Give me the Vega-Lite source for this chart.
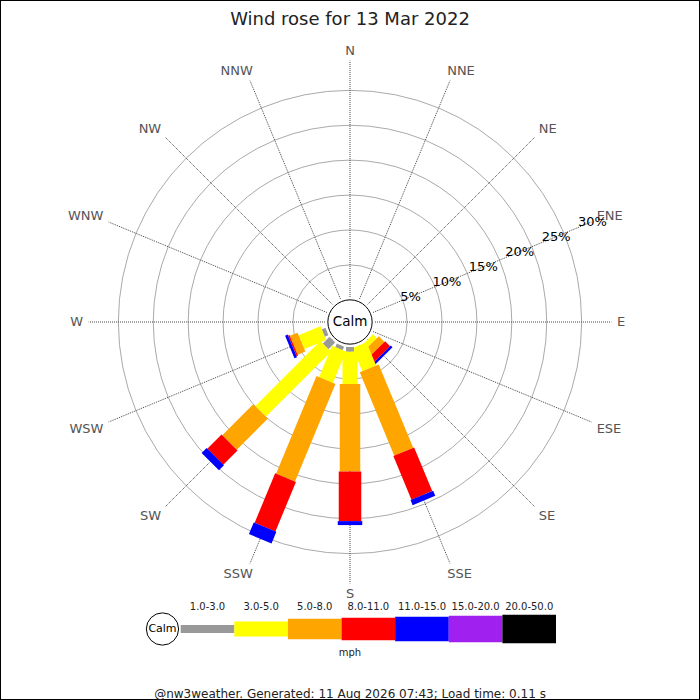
{
  "$schema": "https://vega.github.io/schema/vega-lite/v6.json",
  "width": 700,
  "height": 700,
  "autosize": "none",
  "padding": 0,
  "background": "white",
  "config": {"view": {"stroke": "black", "strokeWidth": 2}, "font": "DejaVu Sans"},
  "title": {"text": "Wind rose for 13 Mar 2022", "font": "DejaVu Sans", "fontSize": 18, "fontWeight": "normal", "color": "#222222", "anchor": "middle", "frame": "group", "orient": "top", "offset": -43, "baseline": "alphabetic"},
  "datasets": {
    "rose": [
      {"dir": "SE", "angle": 135, "speed": "3.0-5.0", "lo": 3, "pct": 0.7},
      {"dir": "SE", "angle": 135, "speed": "5.0-8.0", "lo": 5, "pct": 1.0},
      {"dir": "SE", "angle": 135, "speed": "8.0-11.0", "lo": 8, "pct": 0.9},
      {"dir": "SE", "angle": 135, "speed": "11.0-15.0", "lo": 11, "pct": 0.3},
      {"dir": "SSE", "angle": 157.5, "speed": "3.0-5.0", "lo": 3, "pct": 3.2},
      {"dir": "SSE", "angle": 157.5, "speed": "5.0-8.0", "lo": 5, "pct": 11.45},
      {"dir": "SSE", "angle": 157.5, "speed": "8.0-11.0", "lo": 8, "pct": 6.0},
      {"dir": "SSE", "angle": 157.5, "speed": "11.0-15.0", "lo": 11, "pct": 0.7},
      {"dir": "S", "angle": 180, "speed": "1.0-3.0", "lo": 1, "pct": 0.6},
      {"dir": "S", "angle": 180, "speed": "3.0-5.0", "lo": 3, "pct": 4.1},
      {"dir": "S", "angle": 180, "speed": "5.0-8.0", "lo": 5, "pct": 11.1},
      {"dir": "S", "angle": 180, "speed": "8.0-11.0", "lo": 8, "pct": 6.3},
      {"dir": "S", "angle": 180, "speed": "11.0-15.0", "lo": 11, "pct": 0.5},
      {"dir": "SSW", "angle": 202.5, "speed": "1.0-3.0", "lo": 1, "pct": 0.5},
      {"dir": "SSW", "angle": 202.5, "speed": "3.0-5.0", "lo": 3, "pct": 4.3},
      {"dir": "SSW", "angle": 202.5, "speed": "5.0-8.0", "lo": 5, "pct": 13.4},
      {"dir": "SSW", "angle": 202.5, "speed": "8.0-11.0", "lo": 8, "pct": 6.8},
      {"dir": "SSW", "angle": 202.5, "speed": "11.0-15.0", "lo": 11, "pct": 1.6},
      {"dir": "SW", "angle": 225, "speed": "1.0-3.0", "lo": 1, "pct": 1.2},
      {"dir": "SW", "angle": 225, "speed": "3.0-5.0", "lo": 3, "pct": 11.7},
      {"dir": "SW", "angle": 225, "speed": "5.0-8.0", "lo": 5, "pct": 5.55},
      {"dir": "SW", "angle": 225, "speed": "8.0-11.0", "lo": 8, "pct": 2.55},
      {"dir": "SW", "angle": 225, "speed": "11.0-15.0", "lo": 11, "pct": 0.9},
      {"dir": "WSW", "angle": 247.5, "speed": "1.0-3.0", "lo": 1, "pct": 0.5},
      {"dir": "WSW", "angle": 247.5, "speed": "3.0-5.0", "lo": 3, "pct": 3.0},
      {"dir": "WSW", "angle": 247.5, "speed": "5.0-8.0", "lo": 5, "pct": 1.05},
      {"dir": "WSW", "angle": 247.5, "speed": "8.0-11.0", "lo": 8, "pct": 0.2},
      {"dir": "WSW", "angle": 247.5, "speed": "11.0-15.0", "lo": 11, "pct": 0.35}
    ],
    "dirs": [
      {"dir": "N", "angle": 0}, {"dir": "NNE", "angle": 22.5}, {"dir": "NE", "angle": 45}, {"dir": "ENE", "angle": 67.5},
      {"dir": "E", "angle": 90}, {"dir": "ESE", "angle": 112.5}, {"dir": "SE", "angle": 135}, {"dir": "SSE", "angle": 157.5},
      {"dir": "S", "angle": 180}, {"dir": "SSW", "angle": 202.5}, {"dir": "SW", "angle": 225}, {"dir": "WSW", "angle": 247.5},
      {"dir": "W", "angle": 270}, {"dir": "WNW", "angle": 292.5}, {"dir": "NW", "angle": 315}, {"dir": "NNW", "angle": 337.5}
    ],
    "rings": [
      {"pct": 5, "label": "5%"}, {"pct": 10, "label": "10%"}, {"pct": 15, "label": "15%"},
      {"pct": 20, "label": "20%"}, {"pct": 25, "label": "25%"}, {"pct": 30, "label": "30%"}
    ],
    "speeds": [
      {"speed": "1.0-3.0", "lo": 1}, {"speed": "3.0-5.0", "lo": 3}, {"speed": "5.0-8.0", "lo": 5},
      {"speed": "8.0-11.0", "lo": 8}, {"speed": "11.0-15.0", "lo": 11}, {"speed": "15.0-20.0", "lo": 15},
      {"speed": "20.0-50.0", "lo": 20}
    ]
  },
  "layer": [
    {
      "layer": [
        {
          "data": {"name": "rings"},
          "transform": [{"calculate": "3.1726 + datum.pct", "as": "R"}],
          "mark": {"type": "point", "shape": "circle", "filled": false, "stroke": "#aaaaaa", "strokeWidth": 1, "opacity": 1},
          "encoding": {
            "x": {"datum": 0, "type": "quantitative", "scale": {"domain": [-44.416, 44.416], "nice": false, "zero": false}, "axis": null},
            "y": {"datum": 0, "type": "quantitative", "scale": {"domain": [-47.97, 40.863], "nice": false, "zero": false}, "axis": null},
            "size": {"field": "R", "type": "quantitative", "scale": {"type": "pow", "exponent": 2, "domain": [0, 33.1726], "range": [0, 214664], "zero": true}, "legend": null}
          }
        },
        {
          "data": {"name": "dirs"},
          "transform": [
            {"calculate": "PI*datum.angle/180", "as": "a"},
            {"calculate": "3.1726*sin(datum.a)", "as": "sx"},
            {"calculate": "3.1726*cos(datum.a)", "as": "sy"},
            {"calculate": "33.1726*sin(datum.a)", "as": "ex"},
            {"calculate": "33.1726*cos(datum.a)", "as": "ey"}
          ],
          "mark": {"type": "rule", "stroke": "#444444", "strokeWidth": 1, "strokeDash": [1, 1]},
          "encoding": {
            "x": {"field": "sx", "type": "quantitative", "scale": {"domain": [-44.416, 44.416], "nice": false, "zero": false}, "axis": null},
            "y": {"field": "sy", "type": "quantitative", "scale": {"domain": [-47.97, 40.863], "nice": false, "zero": false}, "axis": null},
            "x2": {"field": "ex"},
            "y2": {"field": "ey"}
          }
        },
        {
          "data": {"name": "rose"},
          "transform": [
            {"stack": "pct", "groupby": ["dir"], "sort": [{"field": "lo", "order": "ascending"}], "as": ["c0", "c1"]},
            {"calculate": "PI*datum.angle/180", "as": "a"},
            {"calculate": "(3.1726+datum.c0)*sin(datum.a)", "as": "x0"},
            {"calculate": "(3.1726+datum.c0)*cos(datum.a)", "as": "y0"},
            {"calculate": "(3.1726+datum.c1)*sin(datum.a)", "as": "x1"},
            {"calculate": "(3.1726+datum.c1)*cos(datum.a)", "as": "y1"}
          ],
          "mark": {"type": "rule", "strokeCap": "butt"},
          "encoding": {
            "x": {"field": "x0", "type": "quantitative", "scale": {"domain": [-44.416, 44.416], "nice": false, "zero": false}, "axis": null},
            "y": {"field": "y0", "type": "quantitative", "scale": {"domain": [-47.97, 40.863], "nice": false, "zero": false}, "axis": null},
            "x2": {"field": "x1"},
            "y2": {"field": "y1"},
            "color": {"field": "speed", "type": "ordinal", "scale": {"type": "ordinal", "domain": ["1.0-3.0", "3.0-5.0", "5.0-8.0", "8.0-11.0", "11.0-15.0", "15.0-20.0", "20.0-50.0"], "range": ["#999999", "#ffff00", "#ffa500", "#ff0000", "#0000ff", "#a020f0", "#000000"]}, "legend": null},
            "strokeWidth": {"field": "speed", "type": "ordinal", "scale": {"type": "ordinal", "domain": ["1.0-3.0", "3.0-5.0", "5.0-8.0", "8.0-11.0", "11.0-15.0", "15.0-20.0", "20.0-50.0"], "range": [8, 15, 20.5, 22.5, 24.5, 26.5, 28.5]}, "legend": null}
          }
        },
        {
          "data": {"values": [{"label": "Calm"}]},
          "mark": {"type": "point", "shape": "circle", "filled": true, "fill": "white", "stroke": "black", "strokeWidth": 1, "opacity": 1},
          "encoding": {
            "x": {"datum": 0, "type": "quantitative", "scale": {"domain": [-44.416, 44.416], "nice": false, "zero": false}, "axis": null},
            "y": {"datum": 0, "type": "quantitative", "scale": {"domain": [-47.97, 40.863], "nice": false, "zero": false}, "axis": null},
            "size": {"datum": 3.1726, "type": "quantitative", "scale": {"type": "pow", "exponent": 2, "domain": [0, 33.1726], "range": [0, 214664], "zero": true}, "legend": null}
          }
        },
        {
          "data": {"values": [{"label": "Calm"}]},
          "mark": {"type": "text", "font": "DejaVu Sans", "fontSize": 13.5, "color": "black", "align": "center", "baseline": "middle"},
          "encoding": {
            "x": {"datum": 0, "type": "quantitative", "scale": {"domain": [-44.416, 44.416], "nice": false, "zero": false}, "axis": null},
            "y": {"datum": 0, "type": "quantitative", "scale": {"domain": [-47.97, 40.863], "nice": false, "zero": false}, "axis": null},
            "text": {"field": "label"}
          }
        },
        {
          "data": {"name": "dirs"},
          "transform": [
            {"calculate": "PI*datum.angle/180", "as": "a"},
            {"calculate": "33.88*sin(datum.a)", "as": "lx"},
            {"calculate": "33.88*cos(datum.a)", "as": "ly"}
          ],
          "mark": {
            "type": "text", "font": "DejaVu Sans", "fontSize": 13, "color": "#555555",
            "align": {"expr": "(datum.angle == 0 || datum.angle == 180) ? 'center' : (datum.angle < 180 ? 'left' : 'right')"},
            "baseline": {"expr": "(datum.angle == 90 || datum.angle == 270) ? 'middle' : ((datum.angle < 90 || datum.angle > 270) ? 'bottom' : 'top')"},
            "dx": {"expr": "(datum.angle == 22.5 || datum.angle == 157.5) ? -5 : ((datum.angle == 202.5 || datum.angle == 337.5) ? 5 : 0)"},
            "dy": {"expr": "(datum.angle == 90 || datum.angle == 270) ? 0 : ((datum.angle < 90 || datum.angle > 270) ? 3 : -1)"}
          },
          "encoding": {
            "x": {"field": "lx", "type": "quantitative", "scale": {"domain": [-44.416, 44.416], "nice": false, "zero": false}, "axis": null},
            "y": {"field": "ly", "type": "quantitative", "scale": {"domain": [-47.97, 40.863], "nice": false, "zero": false}, "axis": null},
            "text": {"field": "dir"}
          }
        },
        {
          "data": {"name": "rings"},
          "transform": [
            {"calculate": "(3.1726+datum.pct)*sin(PI*67.5/180)", "as": "px"},
            {"calculate": "(3.1726+datum.pct)*cos(PI*67.5/180)", "as": "py"}
          ],
          "mark": {"type": "text", "font": "DejaVu Sans", "fontSize": 13, "color": "black", "align": "center", "baseline": "middle", "dx": 1, "dy": 0},
          "encoding": {
            "x": {"field": "px", "type": "quantitative", "scale": {"domain": [-44.416, 44.416], "nice": false, "zero": false}, "axis": null},
            "y": {"field": "py", "type": "quantitative", "scale": {"domain": [-47.97, 40.863], "nice": false, "zero": false}, "axis": null},
            "text": {"field": "label"}
          }
        },
        {
          "data": {"values": [{"label": "@nw3weather. Generated: 11 Aug 2026 07:43; Load time: 0.11 s"}]},
          "mark": {"type": "text", "font": "DejaVu Sans", "fontSize": 12, "color": "#222222", "align": "center", "baseline": "middle"},
          "encoding": {
            "x": {"datum": 0, "type": "quantitative", "scale": {"domain": [-44.416, 44.416], "nice": false, "zero": false}, "axis": null},
            "y": {"datum": -47.2, "type": "quantitative", "scale": {"domain": [-47.97, 40.863], "nice": false, "zero": false}, "axis": null},
            "text": {"field": "label"}
          }
        },
        {
          "data": {"values": [{"label": "mph"}]},
          "mark": {"type": "text", "font": "DejaVu Sans", "fontSize": 10, "color": "#222222", "align": "center", "baseline": "middle"},
          "encoding": {
            "x": {"datum": 0, "type": "quantitative", "scale": {"domain": [-44.416, 44.416], "nice": false, "zero": false}, "axis": null},
            "y": {"datum": -42.04, "type": "quantitative", "scale": {"domain": [-47.97, 40.863], "nice": false, "zero": false}, "axis": null},
            "text": {"field": "label"}
          }
        }
      ]
    },
    {
      "layer": [
        {
          "data": {"name": "speeds"},
          "transform": [
            {"window": [{"op": "row_number", "as": "i"}], "sort": [{"field": "lo", "order": "ascending"}]},
            {"calculate": "datum.i + 1", "as": "i2"}
          ],
          "mark": {"type": "rule", "strokeCap": "butt"},
          "encoding": {
            "x": {"field": "i", "type": "quantitative", "scale": {"domain": [1, 8], "range": [180.7, 556], "nice": false, "zero": false}, "axis": null},
            "x2": {"field": "i2"},
            "y": {"datum": -38.96, "type": "quantitative", "scale": {"domain": [-47.97, 40.863], "nice": false, "zero": false}, "axis": null},
            "color": {"field": "speed", "type": "ordinal", "scale": {"type": "ordinal", "domain": ["1.0-3.0", "3.0-5.0", "5.0-8.0", "8.0-11.0", "11.0-15.0", "15.0-20.0", "20.0-50.0"], "range": ["#999999", "#ffff00", "#ffa500", "#ff0000", "#0000ff", "#a020f0", "#000000"]}, "legend": null},
            "strokeWidth": {"field": "speed", "type": "ordinal", "scale": {"type": "ordinal", "domain": ["1.0-3.0", "3.0-5.0", "5.0-8.0", "8.0-11.0", "11.0-15.0", "15.0-20.0", "20.0-50.0"], "range": [8, 15, 20.5, 22.5, 24.5, 26.5, 28.5]}, "legend": null}
          }
        },
        {
          "data": {"name": "speeds"},
          "transform": [
            {"window": [{"op": "row_number", "as": "i"}], "sort": [{"field": "lo", "order": "ascending"}]},
            {"calculate": "datum.i + 0.5", "as": "im"}
          ],
          "mark": {"type": "text", "font": "DejaVu Sans", "fontSize": 10, "color": "#222222", "align": "center", "baseline": "middle"},
          "encoding": {
            "x": {"field": "im", "type": "quantitative", "scale": {"domain": [1, 8], "range": [180.7, 556], "nice": false, "zero": false}, "axis": null},
            "y": {"datum": -36.17, "type": "quantitative", "scale": {"domain": [-47.97, 40.863], "nice": false, "zero": false}, "axis": null},
            "text": {"field": "speed"}
          }
        },
        {
          "data": {"values": [{"label": "Calm"}]},
          "mark": {"type": "point", "shape": "circle", "filled": true, "fill": "white", "stroke": "black", "strokeWidth": 1, "opacity": 1},
          "encoding": {
            "x": {"datum": 0.66, "type": "quantitative", "scale": {"domain": [1, 8], "range": [180.7, 556], "nice": false, "zero": false}, "axis": null},
            "y": {"datum": -38.96, "type": "quantitative", "scale": {"domain": [-47.97, 40.863], "nice": false, "zero": false}, "axis": null},
            "size": {"datum": 2.31, "type": "quantitative", "scale": {"type": "pow", "exponent": 2, "domain": [0, 33.1726], "range": [0, 214664], "zero": true}, "legend": null}
          }
        },
        {
          "data": {"values": [{"label": "Calm"}]},
          "mark": {"type": "text", "font": "DejaVu Sans", "fontSize": 11, "color": "black", "align": "center", "baseline": "middle"},
          "encoding": {
            "x": {"datum": 0.66, "type": "quantitative", "scale": {"domain": [1, 8], "range": [180.7, 556], "nice": false, "zero": false}, "axis": null},
            "y": {"datum": -38.96, "type": "quantitative", "scale": {"domain": [-47.97, 40.863], "nice": false, "zero": false}, "axis": null},
            "text": {"field": "label"}
          }
        }
      ]
    }
  ],
  "resolve": {"scale": {"x": "independent"}}
}
